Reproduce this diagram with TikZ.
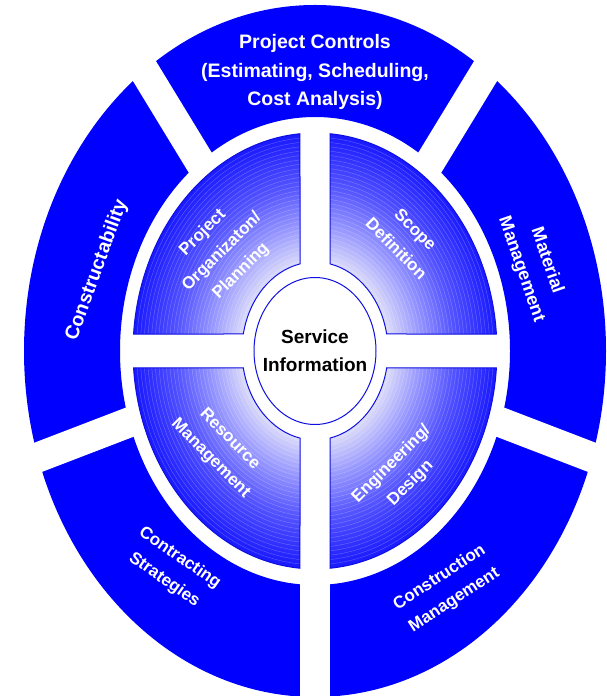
\documentclass[tikz,border=0pt]{standalone}
\usepackage{fontspec}
\setmainfont{Liberation Sans}
\definecolor{ringblue}{RGB}{0,0,255}
\definecolor{qlight}{RGB}{222,222,250}
\definecolor{qmidA}{RGB}{150,150,255}
\definecolor{qmidB}{RGB}{85,85,255}
\definecolor{qdark}{RGB}{25,25,255}
\definecolor{qline}{RGB}{15,15,225}
\pgfdeclareradialshading{quadshade}{\pgfpoint{0bp}{0bp}}{color(0bp)=(qlight); color(10bp)=(qlight); color(14.5bp)=(qmidA); color(19bp)=(qmidB); color(25bp)=(qdark); color(50bp)=(qdark)}
\tikzset{
  ringtext/.style={text=white, font=\bfseries\fontsize{17}{27}\selectfont, align=center, inner sep=0pt},
  gapband/.style={white, line width=30pt},
  qoutline/.style={draw=qline, line width=1pt},
  bandline/.style={white, opacity=0.28, line width=0.4pt},
}
\newcommand{\quadpath}{(94.73:182pt and 218pt) arc[start angle=94.73, end angle=175.53, x radius=182pt, y radius=218pt] -- (168.99:73pt and 89pt) arc[start angle=168.99, end angle=101.86, x radius=73pt, y radius=89pt] -- cycle}
\begin{document}
\begin{tikzpicture}[x=1pt,y=1pt]
\useasboundingbox (0,0) rectangle (607,696);
\clip (0,0) rectangle (607,696);
\begin{scope}[shift={(315,345)}]
  % outer ring
  \fill[ringblue, even odd rule] (0,0) ellipse[x radius=291pt, y radius=346pt] (0,0) ellipse[x radius=195pt, y radius=234pt];
  % gaps between the ring segments
  \foreach \dx/\dy in {-170/279, 170/279, -276/-106, 276/-106, 0/-300}
    \draw[gapband] (0,0) -- (1.5*\dx, 1.5*\dy);
  % inner quadrants
  \foreach \sx/\sy in {1/1,-1/1,1/-1,-1/-1}{
    \begin{scope}[xscale=\sx, yscale=\sy]
      \begin{scope}
        \clip \quadpath;
        \shade[shading=quadshade] (0,0) ellipse[x radius=182pt, y radius=218pt];
        \foreach \s in {0.42,0.44,...,1.0}
          \draw[bandline] (0,0) ellipse[x radius=\s*182pt, y radius=\s*218pt];
      \end{scope}
      \draw[qoutline] \quadpath;
    \end{scope}
  }
  % centre
  \draw[qoutline, fill=white] (0,0) ellipse[x radius=61pt, y radius=73.5pt];
  \node[inner sep=0pt, font=\bfseries\fontsize{19}{28}\selectfont, align=center] (svc) at (0,0) {Service\\Information};
  % ring texts
  \node[ringtext, font=\bfseries\fontsize{19.5}{28.5}\selectfont] (pc) at (0,279) {Project Controls\\(Estimating, Scheduling,\\Cost Analysis)};
  \node[ringtext, font=\bfseries\fontsize{19.5}{28}\selectfont, rotate=70] (con) at (-218,81) {Constructability};
  \node[ringtext, font=\bfseries\fontsize{18}{27}\selectfont, rotate=-71] (mm) at (219,86) {Material\\Management};
  \node[ringtext, rotate=-35] (cs) at (-143,-218) {Contracting\\Strategies};
  \node[ringtext, rotate=33] (cm) at (132,-238) {Construction\\Management};
  % quadrant texts
  \node[ringtext, rotate=45] (po) at (-93,99) {Project\\Organizaton/\\Planning};
  \node[ringtext, rotate=-45] (sd) at (91,112) {Scope\\Definition};
  \node[ringtext, rotate=-45] (rm) at (-95,-98) {Resource\\Management};
  \node[ringtext, rotate=45] (ed) at (86,-123) {Engineering/\\Design};
\end{scope}
\end{tikzpicture}
\end{document}
